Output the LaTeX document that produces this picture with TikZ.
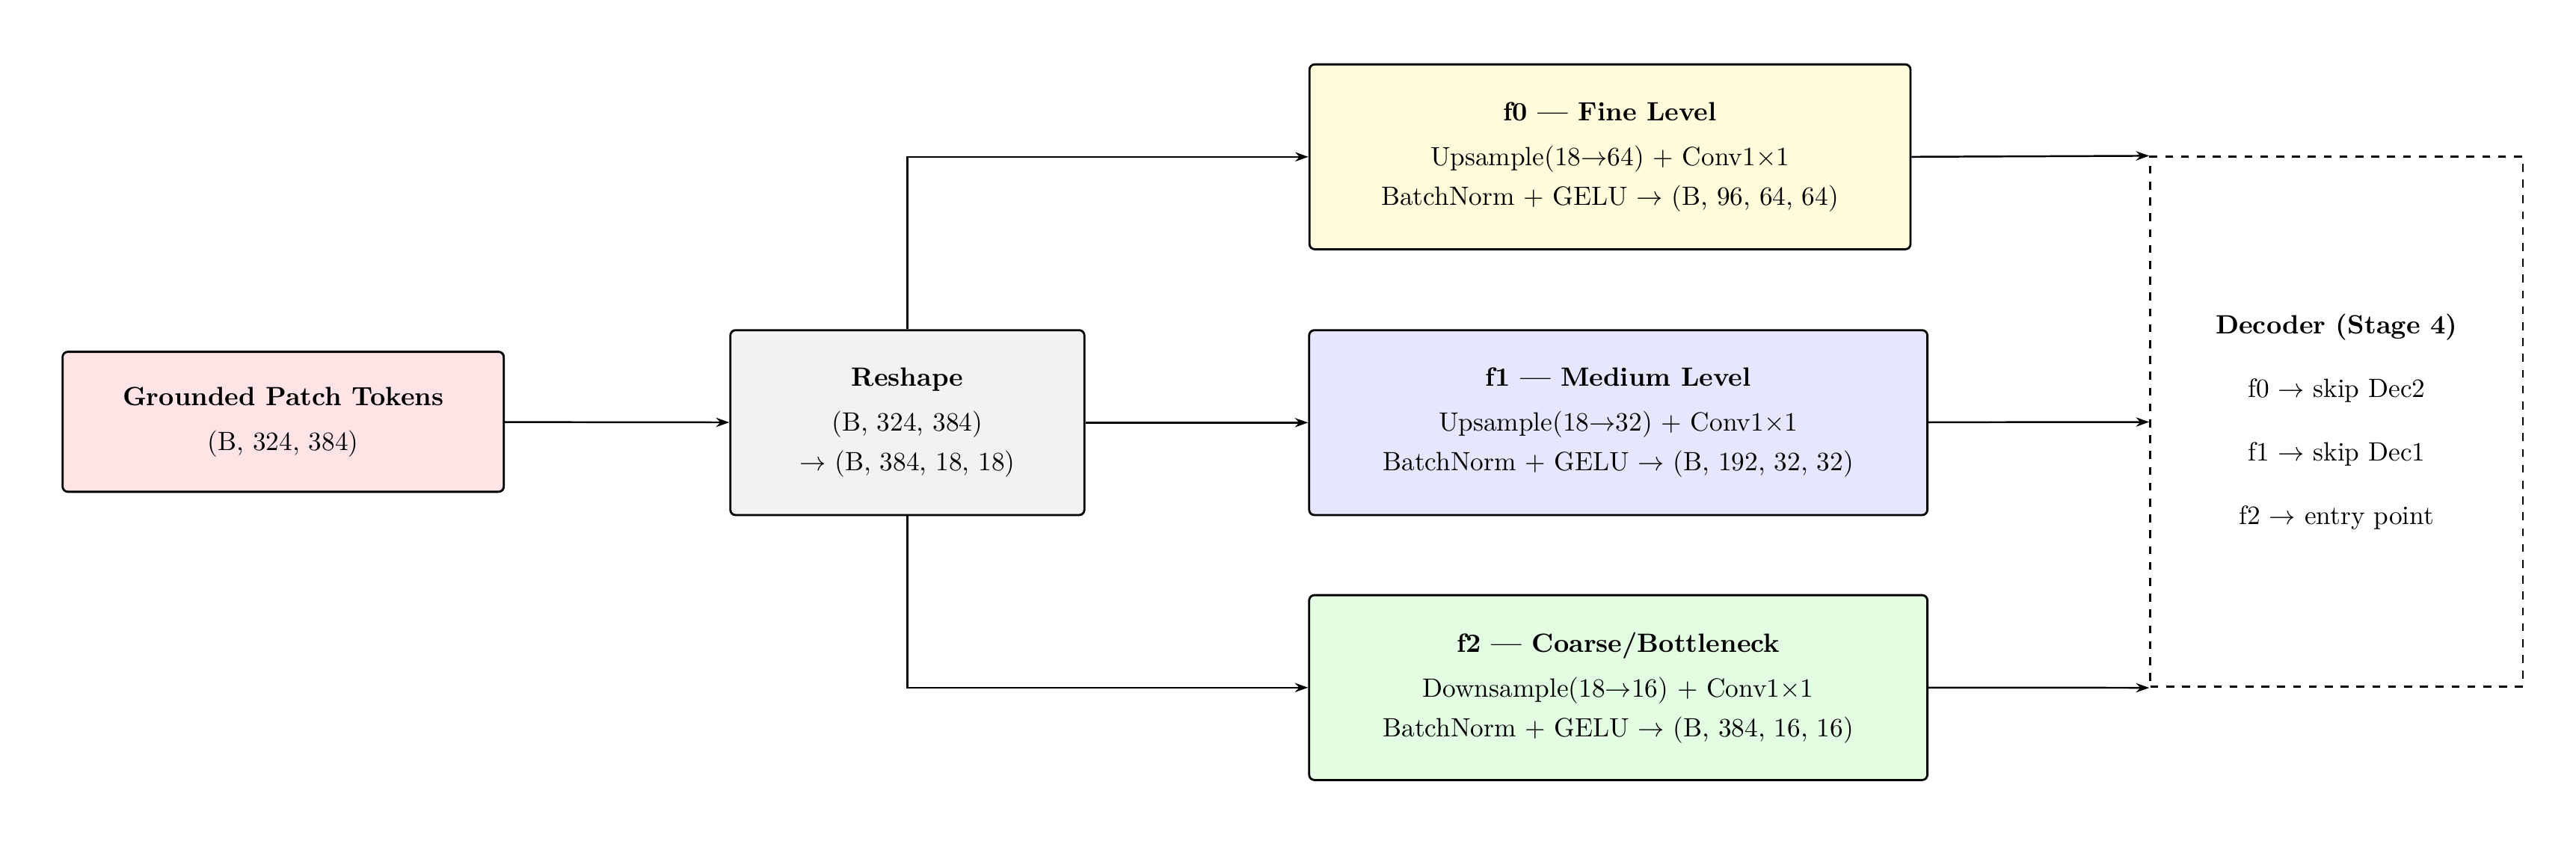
\documentclass[tikz,border=0pt]{standalone}
\usetikzlibrary{arrows.meta}
\definecolor{cpink}{RGB}{255,228,230}
\definecolor{cgray}{RGB}{242,242,242}
\definecolor{cyel}{RGB}{255,252,219}
\definecolor{cblue}{RGB}{230,230,255}
\definecolor{cgreen}{RGB}{227,253,227}
\begin{document}
\begin{tikzpicture}[x=0.625pt,y=-0.625pt,
  box/.style={draw,line width=0.8pt,rounded corners=2pt,align=center,inner sep=0pt},
  arr/.style={-{Stealth[length=5pt,width=3.5pt]},line width=0.7pt}]
\useasboundingbox (0,0) rectangle (1560,511);
\node[box,fill=cpink,minimum width=167pt,minimum height=53pt] (g) at (171.5,255.5)
  {\textbf{Grounded Patch Tokens}\\[5pt](B, 324, 384)};
\node[box,fill=cgray,minimum width=134pt,minimum height=70pt] (r) at (549.5,256)
  {\textbf{Reshape}\\[5pt](B, 324, 384)\\[3pt]$\rightarrow$ (B, 384, 18, 18)};
\node[box,fill=cyel,minimum width=227.5pt,minimum height=70pt] (f0) at (975,95)
  {\textbf{f0 --- Fine Level}\\[5pt]Upsample(18$\rightarrow$64) + Conv1$\times$1\\[3pt]BatchNorm + GELU $\rightarrow$ (B, 96, 64, 64)};
\node[box,fill=cblue,minimum width=234pt,minimum height=70pt] (f1) at (980,256)
  {\textbf{f1 --- Medium Level}\\[5pt]Upsample(18$\rightarrow$32) + Conv1$\times$1\\[3pt]BatchNorm + GELU $\rightarrow$ (B, 192, 32, 32)};
\node[box,fill=cgreen,minimum width=234pt,minimum height=70pt] (f2) at (980,416.5)
  {\textbf{f2 --- Coarse/Bottleneck}\\[5pt]Downsample(18$\rightarrow$16) + Conv1$\times$1\\[3pt]BatchNorm + GELU $\rightarrow$ (B, 384, 16, 16)};
\node[draw,dashed,line width=0.8pt,align=center,minimum width=141pt,minimum height=200.6pt] (d) at (1415,255.5)
  {\textbf{Decoder (Stage 4)}\\[12pt]f0 $\rightarrow$ skip Dec2\\[12pt]f1 $\rightarrow$ skip Dec1\\[12pt]f2 $\rightarrow$ entry point};
\draw[arr] (g) -- (r);
\draw[arr] (r.north) |- (f0.west);
\draw[arr] (r) -- (f1);
\draw[arr] (r.south) |- (f2.west);
\draw[arr] (f0.east) -- (d.north west);
\draw[arr] (f1) -- (d);
\draw[arr] (f2.east) -- (d.south west);
\end{tikzpicture}
\end{document}
